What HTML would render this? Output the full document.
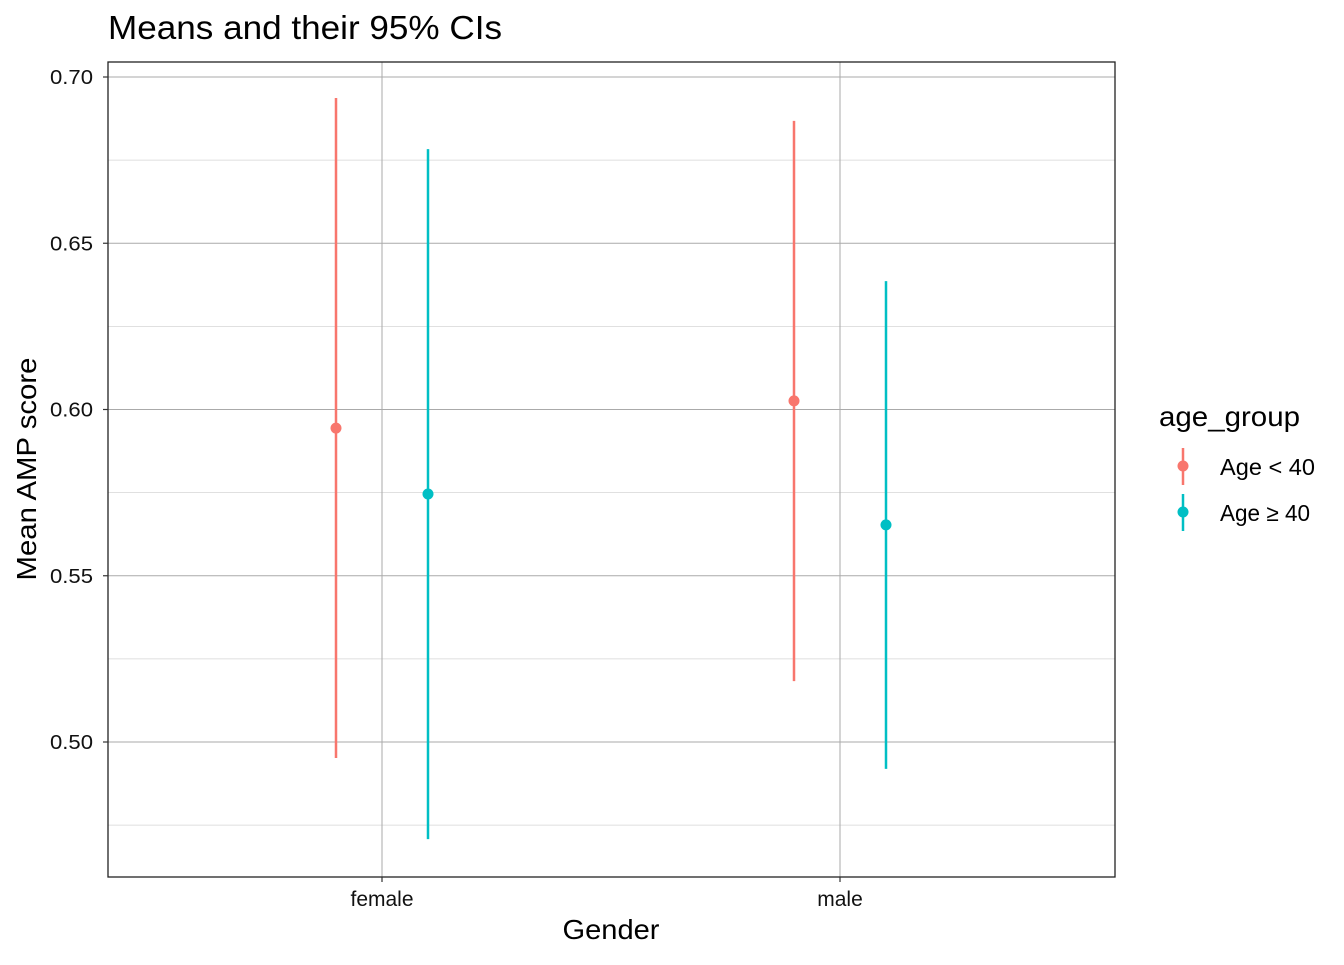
<!DOCTYPE html>
<html><head><meta charset="utf-8"><style>
body{margin:0;background:#fff;font-family:"Liberation Sans",sans-serif;}
</style></head><body>
<svg id="chart" width="1344" height="960" xmlns="http://www.w3.org/2000/svg" font-family="Liberation Sans, sans-serif">
<text x="108" y="39" font-size="33" textLength="394" lengthAdjust="spacingAndGlyphs" fill="#000">Means and their 95% CIs</text>
<g id="grid"></g>
<rect x="108" y="62" width="1007" height="815" fill="none" stroke="#222" stroke-width="1.3"/>
<g id="marks"></g>
<g id="axes"></g>
<text x="611" y="939" font-size="28" textLength="97" lengthAdjust="spacingAndGlyphs" text-anchor="middle">Gender</text>
<text transform="translate(36,469) rotate(-90)" font-size="28" textLength="223" lengthAdjust="spacingAndGlyphs" text-anchor="middle">Mean AMP score</text>
<text x="1159" y="426" font-size="28" textLength="141" lengthAdjust="spacingAndGlyphs">age_group</text>
<g>
<line x1="1183" y1="448" x2="1183" y2="485" stroke="#F8766D" stroke-width="2.5"/>
<circle cx="1183" cy="466" r="5.5" fill="#F8766D"/>
<text x="1220" y="475" font-size="23" textLength="95" lengthAdjust="spacingAndGlyphs">Age &lt; 40</text></g>
<g>
<line x1="1183" y1="494" x2="1183" y2="531" stroke="#00BFC4" stroke-width="2.5"/>
<circle cx="1183" cy="512" r="5.5" fill="#00BFC4"/>
<text x="1220" y="521" font-size="23" textLength="90" lengthAdjust="spacingAndGlyphs">Age ≥ 40</text></g>
</svg>
<script>
const categories = ["female", "male"];
const groups = ["Age < 40", "Age ≥ 40"];
const means = [[0.5944, 0.5746], [0.6026, 0.5653]];
const lowers = [[0.4952, 0.4708], [0.5183, 0.4919]];
const uppers = [[0.6937, 0.6783], [0.6868, 0.6386]];
const yTicks = [0.50, 0.55, 0.60, 0.65, 0.70];
const yMinor = [0.475, 0.525, 0.575, 0.625, 0.675];
const colors = ["#F8766D", "#00BFC4"];
const NS = "http://www.w3.org/2000/svg";
const y = v => 77 + (0.70 - v) * 3325;
const x = i => 382 + i * 458;
const dodge = 46;
function mk(tag, attrs, parent) {
  const e = document.createElementNS(NS, tag);
  for (const k in attrs) e.setAttribute(k, attrs[k]);
  document.getElementById(parent).appendChild(e);
  return e;
}
yMinor.forEach(v => {
  const l = mk("line", {x1:108, x2:1115, y1:y(v), y2:y(v), stroke:"#d6d6d6", "stroke-width":0.8}, "grid");
  
  
});
yTicks.forEach(v => {
  const l = mk("line", {x1:108, x2:1115, y1:y(v), y2:y(v), stroke:"#aaa", "stroke-width":1}, "grid");
  
  
  const t = mk("line", {x1:103, x2:108, y1:y(v), y2:y(v), stroke:"#333", "stroke-width":1.2}, "axes");
  
  
  const tx = mk("text", {x:93, y:y(v)+7, "font-size":20, "text-anchor":"end", fill:"#111", textLength:43, lengthAdjust:"spacingAndGlyphs"}, "axes");
  tx.textContent = v.toFixed(2);
  
  
});
categories.forEach((c, i) => {
  const l = mk("line", {x1:x(i), x2:x(i), y1:62, y2:877, stroke:"#aaa", "stroke-width":1}, "grid");
  
  
  const t = mk("line", {x1:x(i), x2:x(i), y1:877, y2:882, stroke:"#333", "stroke-width":1.2}, "axes");
  
  
  const tx = mk("text", {x:x(i), y:906, "font-size":21, "text-anchor":"middle", fill:"#111"}, "axes");
  tx.textContent = c;
  
  
  groups.forEach((g, j) => {
    const cx = x(i) + (j === 0 ? -dodge : dodge);
    const eb = mk("line", {x1:cx, x2:cx, y1:y(uppers[i][j]), y2:y(lowers[i][j]), stroke:colors[j], "stroke-width":2.5}, "marks");
    
    
    const p = mk("circle", {cx:cx, cy:y(means[i][j]), r:5.5, fill:colors[j]}, "marks");
    
    
  });
});
</script>
</body></html>
